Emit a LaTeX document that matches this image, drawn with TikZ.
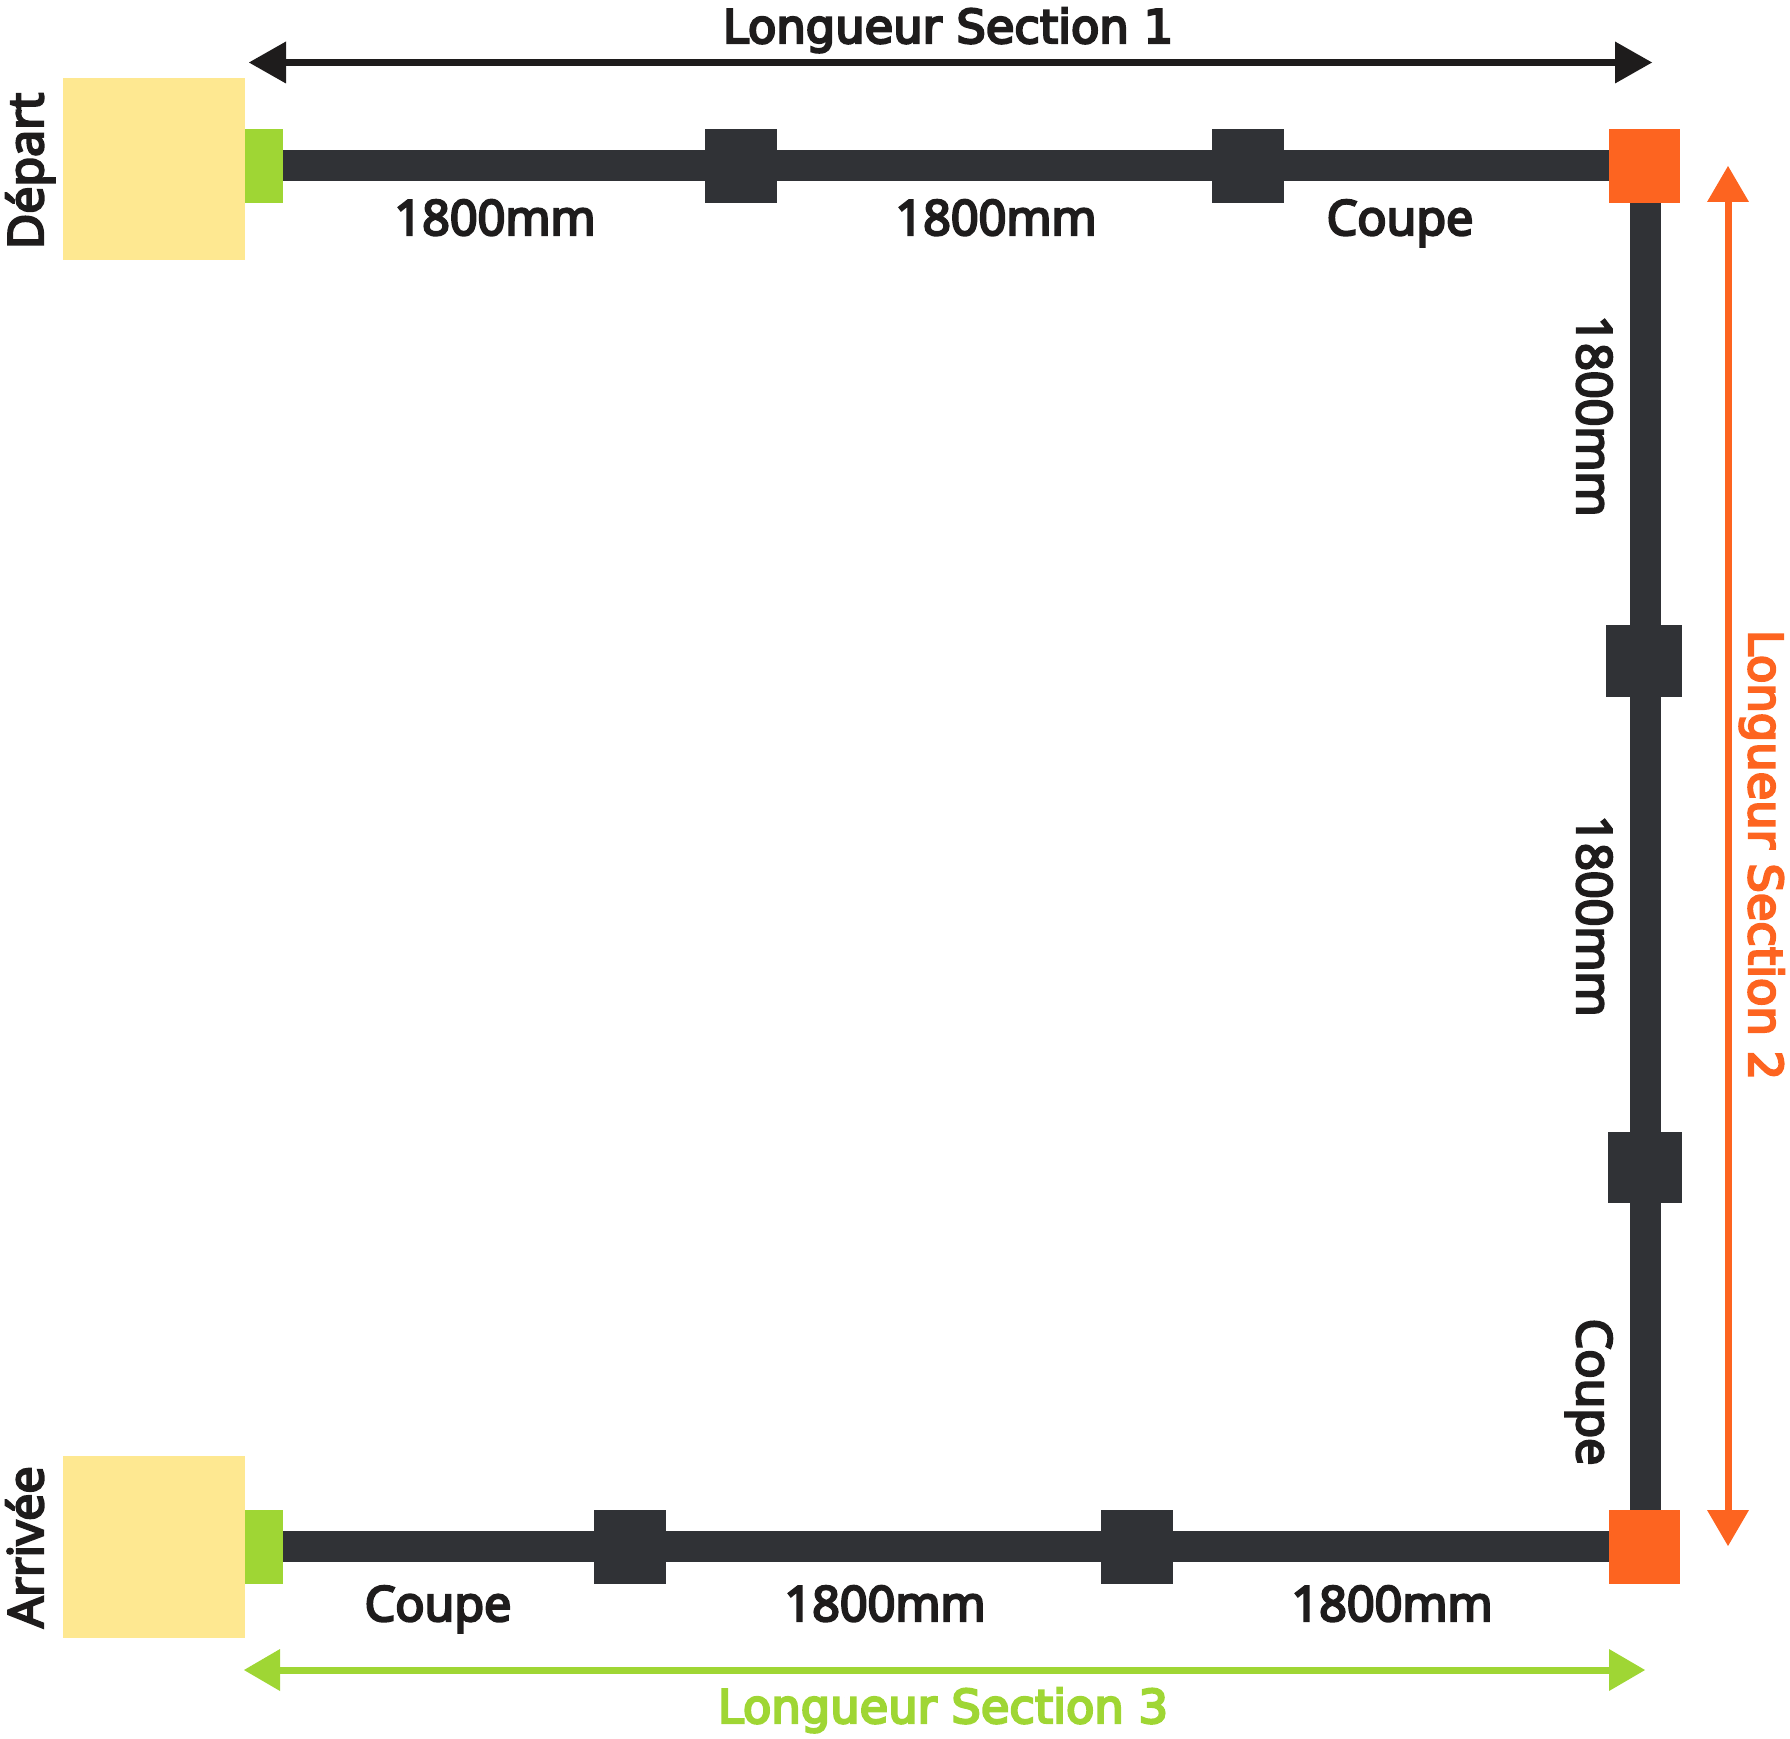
\documentclass[tikz,border=0pt]{standalone}
\usepackage{fontspec}
\setmainfont{Open Sans}[FakeBold=5]
\newfontfamily\titlefont{DejaVu Sans}[FakeBold=5]
\definecolor{bar}{HTML}{303236}
\definecolor{ink}{HTML}{1E1C1C}
\definecolor{org}{HTML}{FD6420}
\definecolor{lime}{HTML}{9FD634}
\definecolor{sand}{HTML}{FEE891}
\newcommand{\R}[5]{\fill[#1] (#2,-#3) rectangle (#4,-#5);}
\tikzset{x=1pt,y=1pt,
 lbl/.style={inner sep=0pt,anchor=base,font=\fontsize{48.5}{50}\selectfont,text=ink},
 ttl/.style={inner sep=0pt,anchor=base,font=\titlefont\fontsize{46.4}{50}\selectfont},
 blk/.style={rectangle,inner sep=0pt,minimum width=72,minimum height=74,fill=bar}}
\begin{document}
\begin{tikzpicture}
\useasboundingbox (0,0) rectangle (1790,-1739);
% bars
\R{bar}{283}{150}{1609}{181}
\R{bar}{283}{1531}{1609}{1562}
\R{bar}{1630}{203}{1661}{1510}
% end blocks
\R{sand}{63}{78}{245}{260}
\R{sand}{63}{1456}{245}{1638}
\R{lime}{245}{129}{283}{203}
\R{lime}{245}{1510}{283}{1584}
\R{org}{1609}{129}{1680}{203}
\R{org}{1609}{1510}{1680}{1584}
% joints
\node[blk] (j1) at (741,-166) {};
\node[blk] (j2) at (1247.5,-166) {};
\node[blk,minimum width=76,minimum height=72] (j3) at (1644,-660.5) {};
\node[blk,minimum width=74,minimum height=71] (j4) at (1645,-1167) {};
\node[blk] (j5) at (630,-1547) {};
\node[blk] (j6) at (1136.5,-1547) {};
% dimension arrows
\coordinate (a1) at (249,-62.5); \coordinate (a2) at (1652,-62.5);
\coordinate (b1) at (1728,-166); \coordinate (b2) at (1728,-1546);
\coordinate (c1) at (244,-1670); \coordinate (c2) at (1645,-1670);
\draw[ink,line width=7] ([xshift=30]a1) -- ([xshift=-30]a2);
\fill[ink] (a1) -- ++(37,21) -- ++(0,-42) -- cycle;
\fill[ink] (a2) -- ++(-37,21) -- ++(0,-42) -- cycle;
\draw[org,line width=7] ([yshift=-30]b1) -- ([yshift=30]b2);
\fill[org] (b1) -- ++(21,-36) -- ++(-42,0) -- cycle;
\fill[org] (b2) -- ++(21,36) -- ++(-42,0) -- cycle;
\draw[lime,line width=7] ([xshift=30]c1) -- ([xshift=-30]c2);
\fill[lime] (c1) -- ++(36,21) -- ++(0,-42) -- cycle;
\fill[lime] (c2) -- ++(-36,21) -- ++(0,-42) -- cycle;
% labels
\node[ttl,text=ink] (t1) at (948,-43) {Longueur Section 1};
\node[ttl,text=lime] (t3) at (943,-1723) {Longueur Section 3};
\node[ttl,text=org,rotate=-90] (t2) at (1749,-855) {Longueur Section 2};
\node[lbl] (l1) at (495,-235) {1800mm};
\node[lbl] (l2) at (996,-235) {1800mm};
\node[lbl] (l3) at (1400,-235) {Coupe};
\node[lbl,rotate=-90] (l4) at (1577,-416) {1800mm};
\node[lbl,rotate=-90] (l5) at (1577,-916) {1800mm};
\node[lbl,rotate=-90] (l6) at (1577,-1392) {Coupe};
\node[lbl] (l7) at (438,-1621) {Coupe};
\node[lbl] (l8) at (885,-1621) {1800mm};
\node[lbl] (l9) at (1392,-1621) {1800mm};
\node[lbl,rotate=90] (d) at (43,-171) {Départ};
\node[lbl,rotate=90] (e) at (43,-1547) {Arrivée};
\end{tikzpicture}
\end{document}
